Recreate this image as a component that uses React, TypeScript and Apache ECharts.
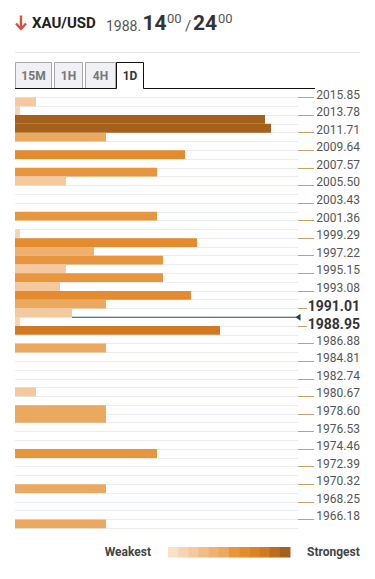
import React, { useEffect, useRef } from "react";
import * as echarts from "echarts";

// ---- data ----
const tickLabels = [
  "2015.85", "2013.78", "2011.71", "2009.64", "2007.57", "2005.50", "2003.43",
  "2001.36", "1999.29", "1997.22", "1995.15", "1993.08", "1991.01", "1988.95",
  "1986.88", "1984.81", "1982.74", "1980.67", "1978.60", "1976.53", "1974.46",
  "1972.39", "1970.32", "1968.25", "1966.18",
];
const boldLabels = ["1991.01", "1988.95"];

// strength of each price row (top row first), 0 = no confluence
const rowStrength = [
  21, 5, 250, 256, 91, 0, 170, 0, 142, 51,
  0, 0, 0, 142, 0, 5, 182, 79, 148, 51,
  148, 45, 176, 91, 57, 5, 205, 0, 91, 0,
  0, 0, 0, 21, 0, 91, 91, 0, 0, 0,
  142, 0, 0, 0, 91, 0, 0, 0, 91,
];
// colour level of each row (index into palette)
const rowLevel = [
  2, 1, 11, 11, 5, 0, 7, 0, 6, 2,
  0, 0, 0, 6, 0, 1, 7, 4, 6, 2,
  6, 2, 7, 5, 2, 1, 9, 0, 5, 0,
  0, 0, 0, 2, 0, 5, 5, 0, 0, 0,
  6, 0, 0, 0, 5, 0, 0, 0, 5,
];
const palette = [
  "#f8e1c8", "#f6d5b3", "#f3c99d", "#f0bd87", "#eeb170", "#eba85f",
  "#e7963d", "#e38b2d", "#dc8326", "#d27a21", "#bb6c1e", "#a5611b",
];
const strengthMax = 283;
const currentPriceRow = 25; // boundary row of the current price marker
const currentLineStart = 57;

const symbolName = "XAU/USD";
const priceHead = "1988.";
const bidBig = "14";
const bidSmall = "00";
const askBig = "24";
const askSmall = "00";
const timeframes = ["15M", "1H", "4H", "1D"];
const activeFrame = "1D";

const FONT = "Roboto";

export default function App() {
  const ref = useRef<HTMLDivElement>(null);

  useEffect(() => {
    if (!ref.current) return;
    const chart = echarts.init(ref.current, undefined, { renderer: "svg" });

    const rowNames = rowStrength.map((_, i) => "row" + i);
    const normalVals: number[] = [];
    const boldVals: number[] = [];
    tickLabels.forEach((l, k) => {
      (boldLabels.includes(l) ? boldVals : normalVals).push(k * 2);
    });
    const labelAt = (v: number) => tickLabels[Math.round(v / 2)] ?? "";

    // tabs layout
    const tabBoxes = [
      [15.5, 51.5],
      [54.5, 82.5],
      [85.5, 115.5],
      [116.5, 143.5],
    ];
    const graphics: any[] = [];
    // arrow
    graphics.push({
      type: "line",
      shape: { x1: 21, y1: 15.5, x2: 21, y2: 29 },
      style: { stroke: "#d9503c", lineWidth: 2.4 },
    });
    graphics.push({
      type: "polyline",
      shape: { points: [[16, 23.5], [21, 29], [26, 23.5]] },
      style: { stroke: "#d9503c", lineWidth: 2.4, fill: null },
    });
    const txt = (text: string, x: number, y: number, font: string, fill: string, align = "left") => ({
      type: "text",
      x,
      y,
      style: { text, font, fill, align, verticalAlign: "middle" },
    });
    graphics.push(txt(symbolName, 32, 22.5, `bold 15px ${FONT}`, "#222"));
    graphics.push(txt(priceHead, 106, 26, `14px ${FONT}`, "#555"));
    graphics.push(txt(bidBig, 142.5, 22.5, `bold 21px ${FONT}`, "#333"));
    graphics.push(txt(bidSmall, 167, 18.5, `13px ${FONT}`, "#555"));
    graphics.push(txt("/", 185, 25.5, `15px ${FONT}`, "#555"));
    graphics.push(txt(askBig, 193, 22.5, `bold 21px ${FONT}`, "#333"));
    graphics.push(txt(askSmall, 218, 18.5, `13px ${FONT}`, "#555"));
    // separator
    graphics.push({
      type: "line",
      shape: { x1: 15, y1: 52.5, x2: 360, y2: 52.5 },
      style: { stroke: "#e6e6e6", lineWidth: 1 },
    });
    // tabs
    timeframes.forEach((t, i) => {
      const [x1, x2] = tabBoxes[i];
      const active = t === activeFrame;
      if (active) {
        graphics.push({
          type: "rect",
          shape: { x: x1, y: 62.5, width: x2 - x1, height: 26 },
          style: { fill: "#fff" },
        });
        graphics.push({
          type: "polyline",
          shape: { points: [[x1, 88.5], [x1, 62.5], [x2, 62.5], [x2, 88.5]] },
          style: { stroke: "#111", lineWidth: 1, fill: null },
        });
      } else {
        graphics.push({
          type: "rect",
          shape: { x: x1, y: 62.5, width: x2 - x1, height: 26 },
          style: { fill: "#f0f0f5", stroke: "#a8a8a8", lineWidth: 1 },
        });
      }
      graphics.push(
        txt(t, (x1 + x2) / 2, 76, `bold 12px ${FONT}`, active ? "#333" : "#777", "center")
      );
    });
    graphics.push({
      type: "line",
      shape: { x1: 15, y1: 88.5, x2: 116.5, y2: 88.5 },
      style: { stroke: "#111", lineWidth: 1 },
    });
    graphics.push({
      type: "line",
      shape: { x1: 143.5, y1: 88.5, x2: 315, y2: 88.5 },
      style: { stroke: "#111", lineWidth: 1 },
    });
    // legend
    graphics.push(txt("Weakest", 151, 551.5, `bold 12px ${FONT}`, "#444", "right"));
    graphics.push(txt("Strongest", 307, 551.5, `bold 12px ${FONT}`, "#444", "left"));
    const lx0 = 168;
    const lw = (290 - 168) / palette.length;
    palette.forEach((c, i) => {
      graphics.push({
        type: "rect",
        shape: { x: lx0 + i * lw, y: 547, width: lw + 0.5, height: 10.5 },
        style: { fill: c },
      });
    });

    const labelAxisBase = {
      type: "value",
      min: 0,
      max: rowStrength.length,
      inverse: true,
      position: "right",
      axisLine: { show: false },
      splitLine: { show: false },
    };

    chart.setOption({
      animation: false,
      textStyle: { fontFamily: FONT },
      grid: {
        left: 15,
        right: 77,
        top: 97.5,
        height: 430.7,
        outerBoundsMode: "none",
      },
      xAxis: { type: "value", min: 0, max: strengthMax, show: false },
      yAxis: [
        {
          type: "category",
          data: rowNames,
          inverse: true,
          axisLine: { show: false },
          axisTick: { show: false },
          axisLabel: { show: false },
          splitLine: { show: true, interval: 0, lineStyle: { color: "#e9ecf1", width: 1 } },
        },
        {
          ...labelAxisBase,
          axisTick: {
            show: true,
            customValues: normalVals,
            length: 16,
            lineStyle: { color: "#c9a064", width: 1 },
          },
          axisLabel: {
            customValues: normalVals,
            formatter: (v: number) => labelAt(v),
            margin: 62,
            align: "right",
            verticalAlign: "bottom",
            lineHeight: 6,
            fontSize: 12,
            color: "#555",
            fontFamily: FONT,
          },
        },
        {
          ...labelAxisBase,
          axisTick: {
            show: true,
            customValues: boldVals,
            length: 9,
            lineStyle: { color: "#c9a064", width: 1 },
          },
          axisLabel: {
            customValues: boldVals,
            formatter: (v: number) => labelAt(v),
            margin: 62,
            align: "right",
            verticalAlign: "bottom",
            lineHeight: 4,
            fontSize: 14,
            fontWeight: "bold",
            color: "#333",
            fontFamily: FONT,
          },
        },
      ],
      series: [
        {
          type: "bar",
          yAxisIndex: 0,
          barCategoryGap: "0%",
          data: rowStrength.map((v, i) => ({
            value: v,
            itemStyle: { color: palette[rowLevel[i]] },
          })),
        },
        {
          type: "line",
          yAxisIndex: 1,
          z: 5,
          lineStyle: { color: "#34495e", width: 1 },
          itemStyle: { color: "#2c3e50" },
          data: [
            { value: [currentLineStart, currentPriceRow], symbol: "none" },
            {
              value: [strengthMax, currentPriceRow],
              symbol: "triangle",
              symbolRotate: 90,
              symbolSize: [7, 5],
            },
          ],
        },
      ],
      graphic: { elements: graphics },
    });

    return () => chart.dispose();
  }, []);

  return (
    <div style={{ position: "fixed", left: 0, top: 0, width: 375, height: 579, background: "#fff" }}>
      <div ref={ref} style={{ width: 375, height: 579 }} />
    </div>
  );
}
